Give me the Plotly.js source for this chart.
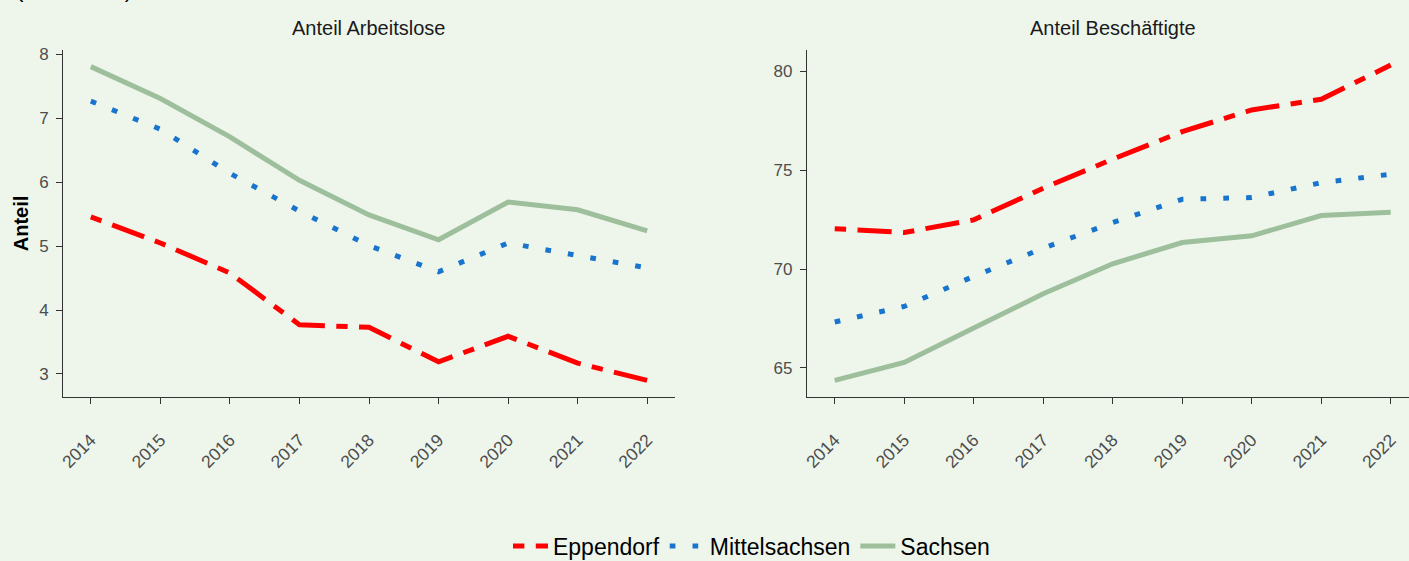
<!DOCTYPE html>
<html>
<head>
<meta charset="utf-8">
<script src="https://cdn.plot.ly/plotly-3.0.1.min.js"></script>
<style>
html,body{margin:0;padding:0;background:#EEF6EC;}
#chart{width:1409px;height:561px;}
</style>
</head>
<body>
<div id="chart"></div>
<script>
const years = [2014, 2015, 2016, 2017, 2018, 2019, 2020, 2021, 2022];
const yearLabels = ['2014','2015','2016','2017','2018','2019','2020','2021','2022'];

// Anteil Arbeitslose
const alEppendorf     = [5.46, 5.05, 4.58, 3.77, 3.73, 3.19, 3.59, 3.17, 2.90];
const alMittelsachsen = [7.27, 6.83, 6.14, 5.55, 5.01, 4.60, 5.05, 4.85, 4.66];
const alSachsen       = [7.81, 7.31, 6.71, 6.03, 5.49, 5.10, 5.69, 5.57, 5.24];

// Anteil Beschäftigte
const bsEppendorf     = [72.04, 71.85, 72.49, 74.09, 75.56, 76.95, 78.05, 78.59, 80.32];
const bsMittelsachsen = [67.32, 68.11, 69.63, 71.06, 72.35, 73.53, 73.62, 74.37, 74.80];
const bsSachsen       = [64.37, 65.28, 67.02, 68.75, 70.27, 71.34, 71.68, 72.71, 72.88];

const seriesNames = ['Eppendorf', 'Mittelsachsen', 'Sachsen'];
const panelTitles = ['Anteil Arbeitslose', 'Anteil Beschäftigte'];
const yTitle = 'Anteil';
const subTitle = '(in Prozent)';

const colors = {Eppendorf: '#FF0000', Mittelsachsen: '#1874CD', Sachsen: '#9DBF9C'};
const dashes = {Eppendorf: '11.4px,11.4px,34.2px,11.4px', Mittelsachsen: '5.7px,17.1px', Sachsen: 'solid'};

function tr(name, y, xa, ya, show) {
  return {
    x: years, y: y, xaxis: xa, yaxis: ya, type: 'scatter', mode: 'lines',
    name: name, showlegend: show, legendgroup: name,
    line: {color: colors[name], width: 5, dash: dashes[name]},
    hoverinfo: 'x+y+name'
  };
}

const data = [
  tr(seriesNames[0], alEppendorf, 'x', 'y', true),
  tr(seriesNames[1], alMittelsachsen, 'x', 'y', true),
  tr(seriesNames[2], alSachsen, 'x', 'y', true),
  tr(seriesNames[0], bsEppendorf, 'x2', 'y2', false),
  tr(seriesNames[1], bsMittelsachsen, 'x2', 'y2', false),
  tr(seriesNames[2], bsSachsen, 'x2', 'y2', false)
];

const font = 'Liberation Sans, Arial, Helvetica, sans-serif';
const xaxisBase = {
  tickmode: 'array', tickvals: years, ticktext: yearLabels,
  tickangle: -45, ticks: 'outside', ticklen: 6, tickcolor: '#333333', tickwidth: 1,
  showline: true, linecolor: '#333333', linewidth: 1,
  showgrid: false, zeroline: false,
  tickfont: {family: font, size: 17.5, color: '#4D4D4D'},
  ticklabelstandoff: 19, fixedrange: true
};
const yaxisBase = {
  ticks: 'outside', ticklen: 6, tickcolor: '#333333', tickwidth: 1,
  showline: true, linecolor: '#333333', linewidth: 1,
  showgrid: false, zeroline: false,
  tickfont: {family: font, size: 17, color: '#4D4D4D'},
  ticklabelstandoff: 4, fixedrange: true
};

const layout = {
  width: 1409, height: 561,
  paper_bgcolor: '#EEF6EC', plot_bgcolor: '#EEF6EC',
  margin: {l: 63, r: 0, t: 50, b: 164, pad: 0, autoexpand: false},
  font: {family: font, color: '#000000'},
  xaxis: Object.assign({}, xaxisBase, {domain: [0, 0.4547], range: [2013.6, 2022.4], anchor: 'y'}),
  yaxis: Object.assign({}, yaxisBase, {range: [2.64, 8.07], tickvals: [3,4,5,6,7,8], anchor: 'x',
    title: {text: '<b>' + yTitle + '</b>', font: {family: font, size: 20, color: '#000000'}, standoff: 5}}),
  xaxis2: Object.assign({}, xaxisBase, {domain: [0.5527, 1], range: [2013.6, 2022.263], anchor: 'y2'}),
  yaxis2: Object.assign({}, yaxisBase, {range: [63.53, 81.08], tickvals: [65,70,75,80], anchor: 'x2'}),
  showlegend: true,
  legend: {
    orientation: 'h', x: 0.5115, xanchor: 'center', y: -149/347, yanchor: 'middle',
    font: {family: font, size: 23, color: '#000000'}, itemwidth: 35,
    bgcolor: 'rgba(0,0,0,0)', traceorder: 'normal', borderwidth: 0
  },
  annotations: [
    {text: panelTitles[0], xref: 'paper', yref: 'paper', x: 0.2273, y: 1 + 22/347,
     xanchor: 'center', yanchor: 'middle', showarrow: false,
     font: {family: font, size: 20, color: '#1A1A1A'}},
    {text: panelTitles[1], xref: 'paper', yref: 'paper', x: 0.780, y: 1 + 22/347,
     xanchor: 'center', yanchor: 'middle', showarrow: false,
     font: {family: font, size: 20, color: '#1A1A1A'}},
    {text: subTitle, xref: 'paper', yref: 'paper', x: -48/1346, y: 1 + 46.5/347,
     xanchor: 'left', yanchor: 'bottom', showarrow: false, borderpad: 0,
     font: {family: font, size: 22.5, color: '#000000'}}
  ]
};

Plotly.newPlot('chart', data, layout, {displayModeBar: false, staticPlot: true});
</script>
</body>
</html>
